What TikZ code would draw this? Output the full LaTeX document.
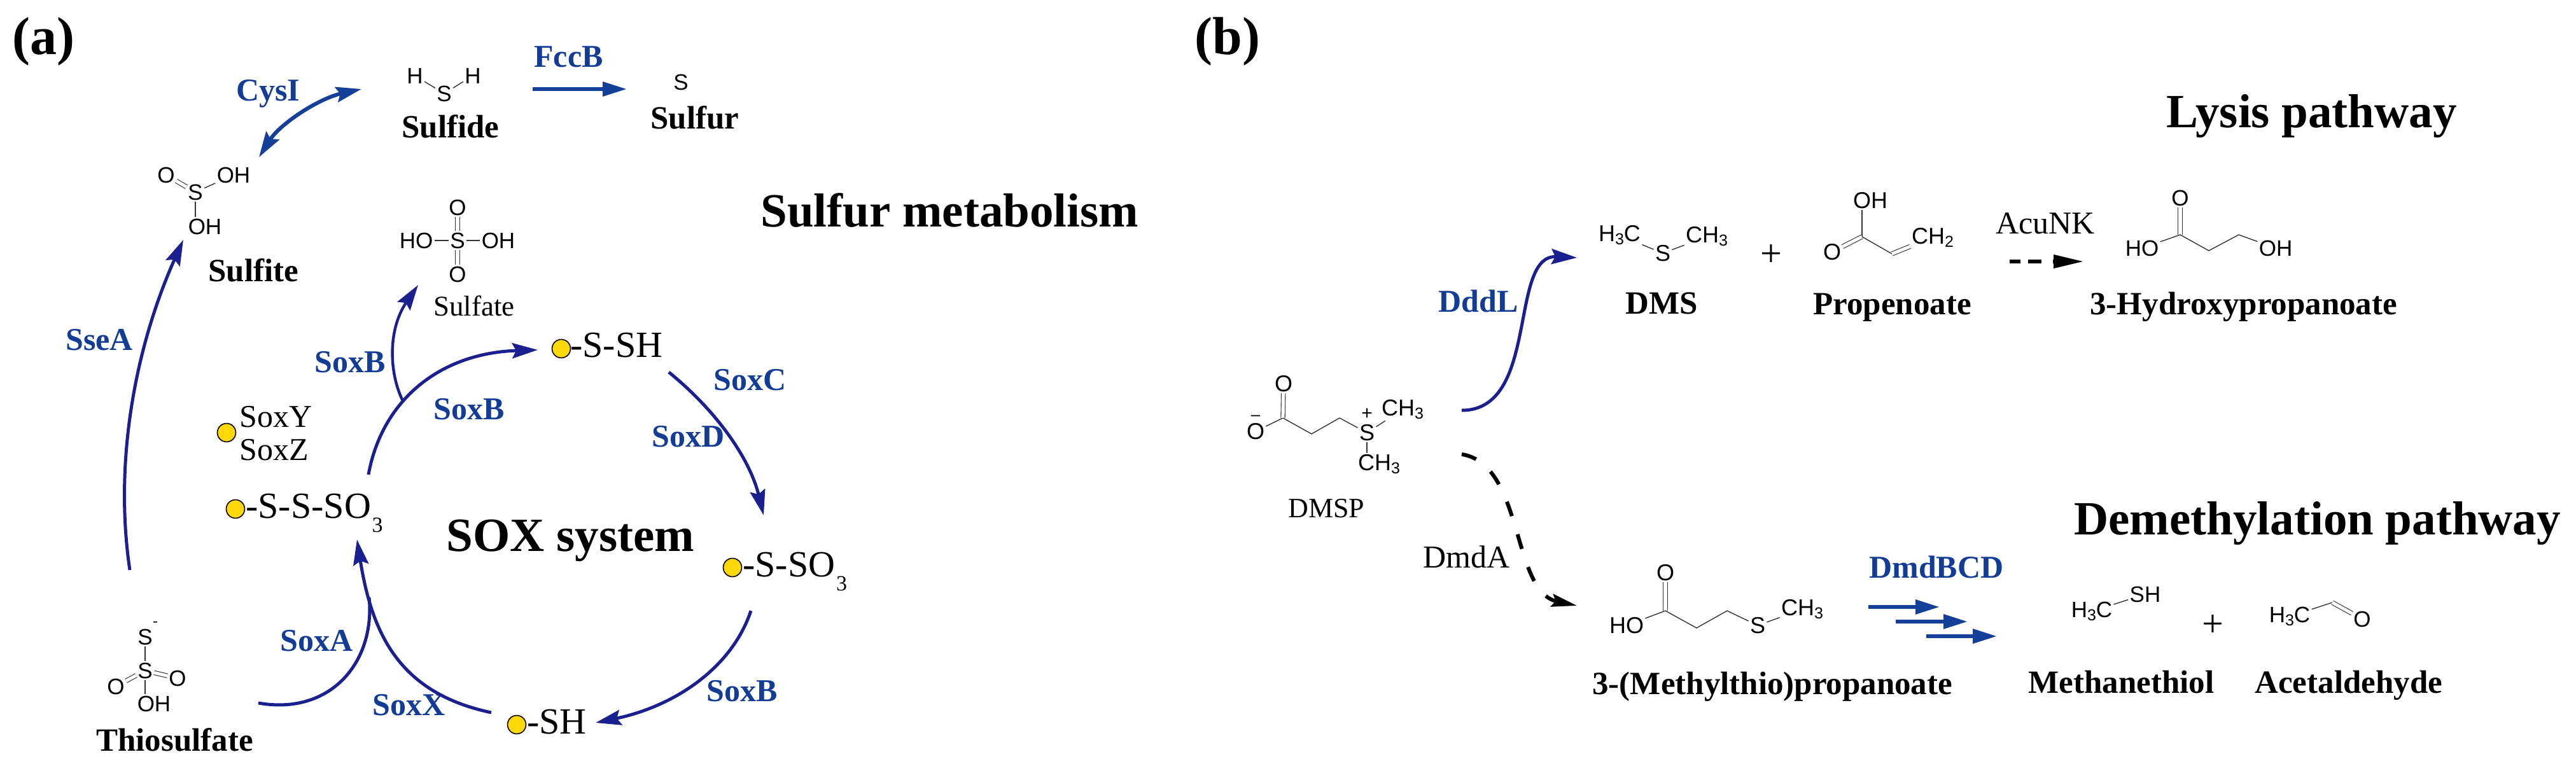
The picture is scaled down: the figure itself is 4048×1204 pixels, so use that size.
\documentclass[tikz,border=0pt]{standalone}
\usepackage{fontspec}
\setmainfont{Liberation Serif}
\newfontfamily\chemfont{Liberation Sans}
\usetikzlibrary{arrows.meta}
\definecolor{labblue}{HTML}{123C96}
\definecolor{navy}{HTML}{1B2090}
\definecolor{royal}{HTML}{14409A}
\definecolor{dotfill}{HTML}{FFD80A}
\definecolor{bondgray}{HTML}{333333}
\newcommand{\fsz}[1]{\fontsize{#1}{#1}\selectfont}
\newcommand{\sbt}[1]{\raisebox{-2.5pt}{\fontsize{12.5}{12.5}\selectfont #1}}
\newcommand{\sbl}[1]{\kern0.8pt\raisebox{-11pt}{\fontsize{17}{17}\selectfont #1}}
\tikzset{
  x=0.5pt,y=-0.5pt,
  panellab/.style={font=\bfseries\fsz{42},anchor=base west,inner sep=0},
  lab/.style={font=\bfseries\fsz{25},text=labblue,anchor=base west,inner sep=0},
  cname/.style={font=\bfseries\fsz{25.5},text=black,anchor=base west,inner sep=0},
  plaintxt/.style={font=\fsz{25},text=black,anchor=base west,inner sep=0},
  subs/.style={font=\fsz{29},text=black,anchor=base west,inner sep=0},
  heading/.style={font=\bfseries\fsz{37.5},text=black,anchor=base west,inner sep=0},
  atom/.style={font=\chemfont\fsz{17.5},text=black,inner sep=1pt},
  atomb/.style={font=\chemfont\fsz{18},text=black,inner sep=1pt},
  chg/.style={font=\chemfont\fsz{12},text=black,inner sep=0},
  plussign/.style={font=\fsz{30},text=black,inner sep=0},
  bond/.style={draw=bondgray,line width=0.7pt},
  dbl/.style={draw=bondgray,line width=0.55pt,double=white,double distance=2.6pt},
  ydot/.style={circle,draw=black,line width=0.8pt,fill=dotfill,minimum size=14.5pt,inner sep=0},
  cyc/.style={draw=navy,line width=2.5pt,-{Stealth[length=20pt,width=12pt,inset=3pt]}},
  cycp/.style={draw=navy,line width=2.5pt},
  bluest/.style={draw=royal,line width=3pt,-{Triangle[length=19pt,width=11pt]}},
  blued/.style={draw=royal,line width=3pt,{Stealth[length=20pt,width=12pt,inset=3pt]}-{Stealth[length=20pt,width=12pt,inset=3pt]}},
  dashblk/.style={draw=black,line width=3pt,dash pattern=on 12pt off 15pt,-{Stealth[length=20pt,width=10pt,inset=3pt]}},
  tipblk/.style={fill=black,draw=none},
}
\begin{document}
\begin{tikzpicture}
\useasboundingbox (0,0) rectangle (4048,1204);
% panel letters and headings
\node[panellab] (pa) at (19,86) {(a)};
\node[panellab] (pb) at (1877,86) {(b)};
\node[heading] (hsm) at (1195,356) {Sulfur metabolism};
\node[heading] (hsox) at (701,866) {SOX system};
\node[heading] (hly) at (3404,200) {Lysis pathway};
\node[heading] (hde) at (3259,840) {Demethylation pathway};
% enzyme labels (a)
\node[lab] (cysi) at (371,158) {CysI};
\node[lab] (fccb) at (839,106) {FccB};
\node[lab] (ssea) at (103,550) {SseA};
\node[lab] (soxb1) at (494,585) {SoxB};
\node[lab] (soxb2) at (681,659) {SoxB};
\node[lab] (soxc) at (1121,613) {SoxC};
\node[lab] (soxd) at (1024,702) {SoxD};
\node[lab] (soxb3) at (1110,1102) {SoxB};
\node[lab] (soxa) at (440,1023) {SoxA};
\node[lab] (soxx) at (585,1124) {SoxX};
% compound names (a)
\node[cname] (nsulfide) at (631,216) {Sulfide};
\node[cname] (nsulfur) at (1022,202) {Sulfur};
\node[cname] (nsulfite) at (327,442) {Sulfite};
\node[plaintxt,font=\fsz{22.5}] (nsulfate) at (681,496) {Sulfate};
\node[cname] (nthio) at (151,1180) {Thiosulfate};
% Sox carrier
\node[ydot] (dz) at (356,680) {};
\node[plaintxt] (soxy) at (376,671) {SoxY};
\node[plaintxt] (soxz) at (376,723) {SoxZ};
\node[ydot] (d1) at (370,800) {};
\node[subs] (t1) at (386,814) {-S-S-SO\sbl{3}};
\node[ydot] (d2) at (882,548) {};
\node[subs] (t2) at (896,561) {-S-SH};
\node[ydot] (d3) at (1151,892) {};
\node[subs] (t3) at (1167,906) {-S-SO\sbl{3}};
\node[ydot] (d4) at (812,1139) {};
\node[subs] (t4) at (828,1153) {-SH};
% sulfide, sulfur
\node[atom] (h1) at (652,119) {H};
\node[atom] (h2) at (743,119) {H};
\node[atom] (s1) at (698,147) {S};
\draw[bond] (s1) -- (h1);
\draw[bond] (s1) -- (h2);
\node[atom] (s2) at (1070,129) {S};
% sulfite
\node[atom] (so) at (261,275) {O};
\node[atom] (sooh) at (367,275) {OH};
\node[atom] (sos) at (307,302) {S};
\node[atom] (sooh2) at (322,356) {OH};
\draw[dbl] (sos) -- (so);
\draw[bond] (sos) -- (sooh);
\draw[bond] (sos) -- (sos |- sooh2.north);
% sulfate
\node[atom] (sa1) at (719,326) {O};
\node[atom] (saho) at (654,378) {HO};
\node[atom] (sas) at (719,378) {S};
\node[atom] (saoh) at (783,378) {OH};
\node[atom] (sa2) at (719,431) {O};
\draw[dbl] (sas) -- (sa1);
\draw[dbl] (sas) -- (sa2);
\draw[bond] (sas) -- (saho);
\draw[bond] (sas) -- (saoh);
% thiosulfate
\node[atom] (tsm) at (228,1001) {S};
\node[chg] (tsminus) at (244,981) {-};
\node[atom] (tss) at (228,1054) {S};
\node[atom] (tso1) at (182,1079) {O};
\node[atom] (tso2) at (279,1066) {O};
\node[atom] (tsoh) at (242,1106) {OH};
\draw[bond] (tss) -- (tsm);
\draw[dbl] (tss) -- (tso1);
\draw[dbl] (tss) -- (tso2);
\draw[bond] (tss) -- (tss |- tsoh.north);
% arrows (a)
\coordinate (cysA) at (568,140);
\coordinate (cysB) at (407,247);
\draw[blued] (cysB) .. controls (440,195) and (500,155) .. (cysA);
\coordinate (fccS) at (837,140);
\coordinate (fccE) at (985,140);
\draw[bluest] (fccS) -- (fccE);
\coordinate (sseS) at (204,896);
\coordinate (sseE) at (288,377);
\draw[cyc] (sseS) .. controls (178,720) and (215,540) .. (sseE);
\coordinate (bigS) at (579,746);
\coordinate (junc) at (634,632);
\coordinate (bigE) at (845,550);
\draw[cyc] (bigS) .. controls (600,630) and (690,555) .. (bigE);
\coordinate (sulE) at (657,448);
\draw[cyc,line width=2.2pt] (junc) .. controls (612,590) and (608,520) .. (sulE);
\coordinate (cdS) at (1051,585);
\coordinate (cdE) at (1200,810);
\draw[cyc] (cdS) .. controls (1125,645) and (1178,720) .. (cdE);
\coordinate (bS) at (1180,960);
\coordinate (bE) at (936,1136);
\draw[cyc] (bS) .. controls (1150,1050) and (1060,1110) .. (bE);
\coordinate (xS) at (772,1120);
\coordinate (xE) at (561,848);
\draw[cyc] (xS) .. controls (630,1090) and (585,1000) .. (xE);
\coordinate (aS) at (406,1105);
\coordinate (aE) at (580,939);
\draw[cycp] (aS) .. controls (520,1125) and (590,1040) .. (aE);
% DMSP
\node[atomb] (dmo1) at (1973,678) {O};
\node[chg,font=\chemfont\fsz{13}] (dmminus) at (1973,657) {–};
\coordinate (dmc1) at (2016,657);
\node[atomb] (dmo2) at (2017,603) {O};
\coordinate (dmc2) at (2061,682);
\coordinate (dmc3) at (2105,657);
\node[atomb] (dms) at (2148,680) {S};
\node[chg,font=\chemfont\fsz{15}] (dmplus) at (2148,651) {+};
\node[atomb] (dmch1) at (2204,644) {CH\sbt{3}};
\node[atomb] (dmch2) at (2167,730) {CH\sbt{3}};
\draw[bond] (dmo1) -- (dmc1);
\draw[dbl] (dmc1) -- (dmo2);
\draw[bond] (dmc1) -- (dmc2) -- (dmc3) -- (dms);
\draw[bond] (dms) -- (dmch1);
\draw[bond] (dms) -- (dms |- dmch2.north);
\node[plaintxt,font=\fsz{22}] (ndmsp) at (2024,813) {DMSP};
\node[lab] (dddl) at (2260,490) {DddL};
\node[plaintxt] (dmda) at (2236,892) {DmdA};
% DMS
\node[atomb] (dsa) at (2545,370) {H\sbt{3}C};
\node[atomb] (dss) at (2613,398) {S};
\node[atomb] (dsb) at (2682,372) {CH\sbt{3}};
\draw[bond] (dss) -- (dsa);
\draw[bond] (dss) -- (dsb);
\node[cname] (ndms) at (2554,493) {DMS};
\node[plussign] (plus1) at (2783,402) {+};
% propenoate
\node[atomb] (poh) at (2939,315) {OH};
\node[atomb] (po) at (2879,396) {O};
\coordinate (pc1) at (2926,372);
\coordinate (pc2) at (2973,399);
\node[atomb] (pch) at (3037,373) {CH\sbt{2}};
\draw[bond] (pc1) -- (pc1 |- poh.south);
\draw[dbl] (pc1) -- (po);
\draw[bond] (pc1) -- (pc2);
\draw[dbl] (pc2) -- (pch);
\node[cname] (nprop) at (2849,494) {Propenoate};
% AcuNK
\node[plaintxt] (acunk) at (3136,367) {AcuNK};
\coordinate (acS) at (3158,411);
\coordinate (acB) at (3227,411);
\coordinate (acE) at (3273,411);
\draw[draw=black,line width=3pt,dash pattern=on 8.5pt off 6pt on 10.5pt off 9pt] (acS) -- (acB);
\fill[tipblk] (acE) -- (3227,400) -- (3227,422) -- cycle;
% 3-hydroxypropanoate
\node[atom] (ho) at (3426,311) {O};
\coordinate (hc1) at (3426,369);
\node[atom] (hho) at (3366,390) {HO};
\coordinate (hc2) at (3471,394);
\coordinate (hc3) at (3518,369);
\node[atom] (hoh) at (3576,390) {OH};
\draw[dbl] (hc1) -- (ho);
\draw[bond] (hho) -- (hc1) -- (hc2) -- (hc3) -- (hoh);
\node[cname] (n3hp) at (3284,494) {3-Hydroxypropanoate};
% DMSP arrows
\coordinate (dlS) at (2297,645);
\coordinate (dlE) at (2478,405);
\draw[cyc] (dlS) .. controls (2420,645) and (2370,400) .. (dlE);
\coordinate (daS) at (2297,714);
\coordinate (daE) at (2478,952);
\draw[dashblk] (daS) .. controls (2395,730) and (2375,930) .. (daE);
% 3-MTP
\node[atomb] (mo) at (2617,900) {O};
\coordinate (mc1) at (2617,960);
\node[atomb] (mho) at (2556,983) {HO};
\coordinate (mc2) at (2666,987);
\coordinate (mc3) at (2714,960);
\node[atomb] (ms) at (2762,983) {S};
\node[atomb] (mch) at (2832,958) {CH\sbt{3}};
\draw[dbl] (mc1) -- (mo);
\draw[bond] (mho) -- (mc1) -- (mc2) -- (mc3) -- (ms) -- (mch);
\node[cname] (nmtp) at (2502,1091) {3-(Methylthio)propanoate};
% DmdBCD
\node[lab] (dmdb) at (2937,908) {DmdBCD};
\coordinate (d1S) at (2936,954);
\coordinate (d1E) at (3048,954);
\coordinate (d2S) at (2979,977);
\coordinate (d2E) at (3092,977);
\coordinate (d3S) at (3027,1000);
\coordinate (d3E) at (3138,1000);
\draw[bluest] (d1S) -- (d1E);
\draw[bluest] (d2S) -- (d2E);
\draw[bluest] (d3S) -- (d3E);
% methanethiol
\node[atom] (ma) at (3287,961) {H\sbt{3}C};
\node[atom] (mb) at (3371,934) {SH};
\draw[bond] (ma) -- (mb);
\node[plussign] (plus2) at (3477,984) {+};
% acetaldehyde
\node[atom] (aa) at (3598,969) {H\sbt{3}C};
\coordinate (ac) at (3665,947);
\node[atom] (ao) at (3712,973) {O};
\draw[bond] (aa) -- (ac);
\draw[dbl] (ac) -- (ao);
\node[cname] (nmeth) at (3187,1089) {Methanethiol};
\node[cname] (nacet) at (3543,1089) {Acetaldehyde};
\end{tikzpicture}
\end{document}
